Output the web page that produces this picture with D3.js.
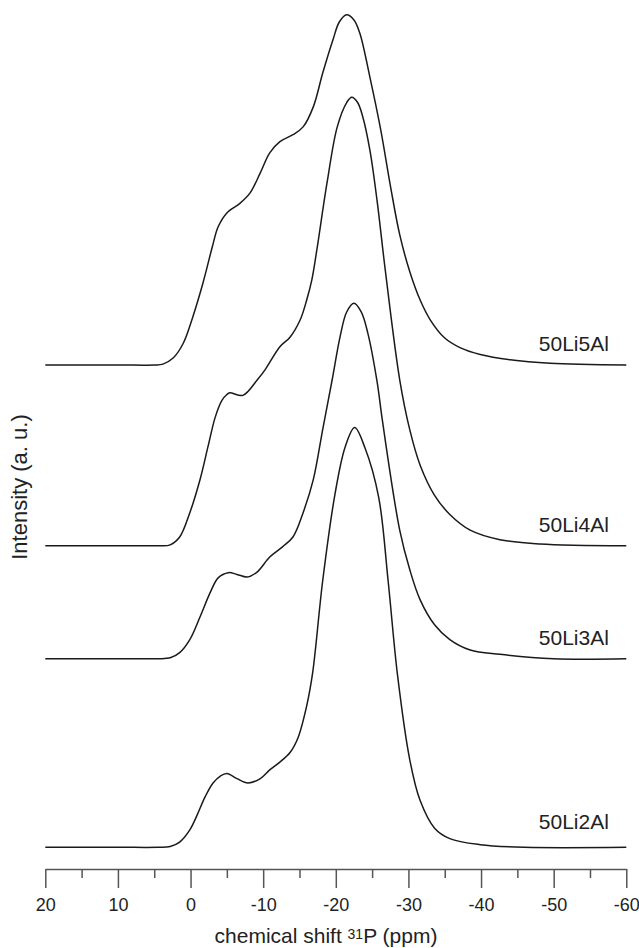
<!DOCTYPE html>
<html>
<head>
<meta charset="utf-8">
<script src="https://cdn.jsdelivr.net/npm/d3@7"></script>
<style>
  body { margin: 0; background: #fff; }
  svg { display: block; font-family: "Liberation Sans", Arial, sans-serif; }
</style>
</head>
<body>
<svg width="639" height="948"></svg>
<script>
// sample names, bottom to top
var names = ["50Li2Al", "50Li3Al", "50Li4Al", "50Li5Al"];
// vertical offsets of each trace (a. u.)
var offsets = [2.5, 24.2, 37.2, 58.0];

// chemical shift (ppm) / intensity (a. u.)
var ppm2Al = [20, 10, 4.5, 2.8, 1.5, 0.1, -0.9, -2.0, -3.1, -4.1, -5.0, -6.4, -7.9, -9.6, -10.9, -12.3, -13.7, -14.8, -16.0, -16.8, -18.2, -19.9, -21.3, -22.6, -24.0, -25.9, -27.2, -28.5, -30.2, -31.6, -33.6, -35.7, -39.9, -46, -60];
var int2Al = [0, 0, 0, 0.1, 0.6, 2.0, 3.7, 5.8, 7.4, 8.2, 8.5, 7.9, 7.4, 7.9, 8.9, 9.8, 10.9, 12.6, 16.3, 20.0, 30.7, 40.7, 46.1, 48.3, 46.0, 40.3, 30.7, 19.8, 10.0, 5.4, 2.2, 1.0, 0.3, 0, 0];

var ppm3Al = [20, 10, 4.5, 2.8, 1.5, 0.1, -1.3, -2.7, -3.8, -5.2, -6.4, -7.8, -9.2, -10.9, -12.7, -14.1, -15.5, -16.9, -18.2, -19.5, -20.6, -21.5, -22.5, -23.5, -24.4, -25.7, -26.4, -28.8, -30.2, -31.6, -33.6, -35.7, -38.5, -42.6, -50, -60];
var int3Al = [0, 0, 0, 0.1, 0.7, 2.2, 4.8, 7.6, 9.3, 9.9, 9.7, 9.4, 10.0, 11.7, 12.9, 14.0, 16.8, 20.6, 26.4, 32.1, 37.1, 39.9, 40.9, 39.9, 37.5, 31.8, 27.5, 14.8, 10.2, 6.8, 3.9, 2.2, 1.0, 0.5, 0, 0];

var ppm4Al = [20, 10, 4.5, 2.8, 1.5, 0.1, -1.3, -2.4, -3.4, -4.3, -5.0, -5.4, -7.2, -9.2, -10.3, -12.3, -13.7, -15.1, -16.0, -16.7, -17.4, -18.8, -20.2, -21.5, -22.2, -23.0, -23.7, -24.7, -25.7, -26.8, -28.8, -30.2, -31.6, -33.6, -35.7, -38.5, -42.6, -48.1, -60];
var int4Al = [0, 0, 0, 0.1, 1.0, 3.8, 7.6, 11.4, 14.8, 16.7, 17.4, 17.6, 17.3, 19.1, 20.3, 22.9, 24.0, 26.0, 28.3, 30.6, 34.1, 41.8, 48.2, 51.0, 51.6, 51.0, 49.4, 45.5, 39.6, 31.8, 19.1, 13.3, 9.3, 5.8, 3.6, 1.8, 0.7, 0.2, 0];

var ppm5Al = [20, 10, 5, 3.8, 2.4, 1.0, -0.3, -1.7, -3.0, -3.8, -5.0, -6.8, -8.2, -9.6, -10.9, -12.3, -14.1, -15.5, -16.9, -18.2, -19.6, -20.5, -21.5, -22.5, -23.3, -24.7, -26.2, -27.5, -28.8, -30.2, -31.6, -33.0, -35.0, -37.1, -39.9, -44.0, -49.5, -60];
var int5Al = [0, 0, 0, 0.1, 0.8, 2.5, 5.5, 9.4, 13.6, 15.9, 17.5, 18.6, 19.8, 22.1, 24.4, 25.7, 26.5, 27.4, 29.7, 33.6, 37.4, 39.5, 40.3, 39.7, 38.2, 33.1, 27.0, 20.7, 15.0, 10.7, 7.5, 5.2, 3.1, 2.0, 1.2, 0.6, 0.2, 0];

var majorTicks = [20, 10, 0, -10, -20, -30, -40, -50, -60];
var minorTicks = [15, 5, -5, -15, -25, -35, -45, -55];

var spectra = [
  { name: names[0], offset: offsets[0], ppm: ppm2Al, val: int2Al },
  { name: names[1], offset: offsets[1], ppm: ppm3Al, val: int3Al },
  { name: names[2], offset: offsets[2], ppm: ppm4Al, val: int4Al },
  { name: names[3], offset: offsets[3], ppm: ppm5Al, val: int5Al }
];

var svg = d3.select("svg");

var x = d3.scaleLinear().domain([20, -60]).range([45.3, 626.3]);
var y = d3.scaleLinear().domain([0, 100]).range([869, 0]);

var line = d3.line()
  .x(function (d) { return x(d[0]); })
  .y(function (d) { return y(d[1]); })
  .curve(d3.curveCatmullRom.alpha(0.5));

var traces = svg.append("g")
  .selectAll("g")
  .data(spectra)
  .enter().append("g");

traces.append("path")
  .attr("fill", "none")
  .attr("stroke", "#1a1a1a")
  .attr("stroke-width", 1.5)
  .attr("stroke-linejoin", "round")
  .attr("d", function (s) {
    return line(s.ppm.map(function (p, i) { return [p, s.offset + s.val[i]]; }));
  });

// label sits a bit higher on the bottom trace
traces.append("text")
  .attr("x", x(-57.6))
  .attr("y", function (s, i) { return y(s.offset) - (i === 0 ? 18 : 14); })
  .attr("text-anchor", "end")
  .attr("font-size", 21)
  .attr("fill", "#222")
  .text(function (s) { return s.name; });

// x axis, major + minor ticks
var axisG = svg.append("g")
  .attr("transform", "translate(0," + y(0) + ")");

axisG.append("g")
  .call(d3.axisBottom(x).tickValues(minorTicks).tickSize(9).tickSizeOuter(0).tickFormat(""))
  .call(function (g) { g.select(".domain").remove(); });

axisG.append("g")
  .call(d3.axisBottom(x).tickValues(majorTicks).tickSize(19).tickSizeOuter(0).tickPadding(10)
    .tickFormat(function (d) { return String(d); }));

axisG.selectAll("line, path")
  .attr("stroke", "#555")
  .attr("stroke-width", 1.5);
axisG.selectAll("text")
  .attr("font-size", 18)
  .attr("font-family", "Liberation Sans, Arial, sans-serif")
  .attr("fill", "#222");

// axis titles
var xt = svg.append("text")
  .attr("x", 326)
  .attr("y", 943)
  .attr("text-anchor", "middle")
  .attr("font-size", 21)
  .attr("fill", "#222");
xt.append("tspan").text("chemical shift ");
xt.append("tspan").attr("font-size", 14).attr("dy", -4).text("31");
xt.append("tspan").attr("dy", 4).text("P (ppm)");

svg.append("text")
  .attr("transform", "translate(27,487) rotate(-90)")
  .attr("text-anchor", "middle")
  .attr("font-size", 22)
  .attr("fill", "#222")
  .text("Intensity (a. u.)");
</script>
</body>
</html>
